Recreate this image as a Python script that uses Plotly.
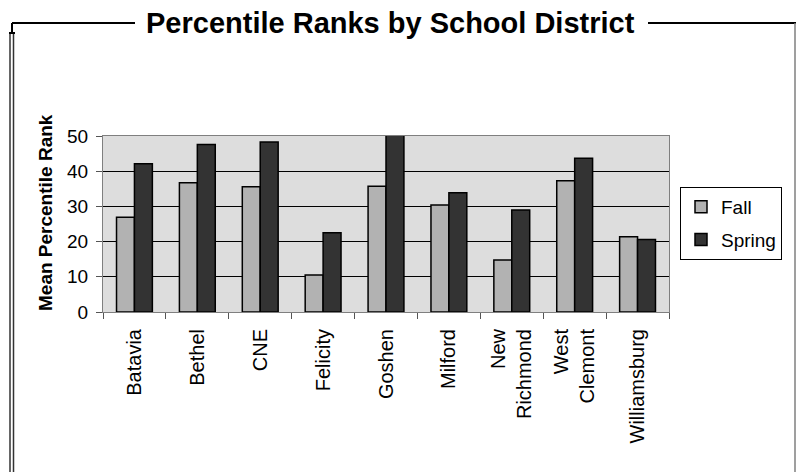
import plotly.graph_objects as go

districts = ["Batavia", "Bethel", "CNE", "Felicity", "Goshen", "Milford",
             "New<br>Richmond", "West<br>Clemont", "Williamsburg"]
fall = [26.9, 36.7, 35.6, 10.5, 35.7, 30.4, 14.8, 37.3, 21.4]
spring = [42.1, 47.6, 48.3, 22.5, 50.8, 33.9, 29.0, 43.7, 20.6]
y_ticks = [0, 10, 20, 30, 40, 50]

W, H = 796, 472
L, R, T, B = 103, 669, 136, 312
FONT = "Liberation Sans, Arial, sans-serif"

def X(px):
    return (px - L) / (R - L)

def Y(py):
    return (B - py) / (B - T)

fig = go.Figure()
fig.add_trace(go.Bar(name="Fall", x=districts, y=fall, legendgroup="fall",
                     marker=dict(color="#b2b2b2", line=dict(color="black", width=1.5)),
                     cliponaxis=False))
fig.add_trace(go.Bar(name="Spring", x=districts, y=spring, legendgroup="spring",
                     marker=dict(color="#333333", line=dict(color="black", width=1.5)),
                     cliponaxis=False))

shapes = []
def line(x0, y0, x1, y1, color="black", width=2):
    shapes.append(dict(type="line", xref="paper", yref="paper",
                       x0=X(x0), y0=Y(y0), x1=X(x1), y1=Y(y1),
                       line=dict(color=color, width=width)))

# outer frame
line(12, 23, 135, 23)
line(648, 23, 796, 23)
line(12, 23, 12, 33)
line(10, 33, 10, 472, color="#333333", width=1.5)
line(13.5, 33, 13.5, 472, color="#333333", width=1.5)
line(9, 33, 15, 33, width=2)
line(795, 23, 795, 472, color="#7f7f7f", width=1.5)

fig.update_layout(
    width=W, height=H,
    margin=dict(l=L, r=W - R, t=T, b=H - B, pad=0, autoexpand=False),
    paper_bgcolor="white",
    plot_bgcolor="#dddddd",
    barmode="group", bargap=0.43, bargroupgap=0,
    font=dict(family=FONT, size=19, color="black"),
    showlegend=True,
    legend=dict(x=X(680), y=Y(187), xanchor="left", yanchor="top",
                bordercolor="black", borderwidth=1, bgcolor="white",
                font=dict(size=19), traceorder="grouped", tracegroupgap=5,
                itemwidth=30),
    shapes=shapes,
    annotations=[
        dict(text="<b>Percentile Ranks by School District</b>", xref="paper", yref="paper",
             x=X(390), y=Y(23), xanchor="center", yanchor="middle", showarrow=False,
             font=dict(size=29, family=FONT, color="black")),
        dict(text="<b>Mean Percentile Rank</b>", xref="paper", yref="paper",
             x=X(45), y=Y(212), xanchor="center", yanchor="middle", showarrow=False,
             textangle=-90, font=dict(size=19, family=FONT, color="black")),
    ],
)
fig.update_xaxes(showline=True, linecolor="#7f7f7f", linewidth=1, mirror=True,
                 ticks="outside", tickson="boundaries", ticklen=6, tickcolor="#555555",
                 tickangle=-90, tickfont=dict(size=20), showgrid=False,
                 ticklabelstandoff=8)
fig.update_yaxes(range=[0, 50], tickvals=y_ticks, showline=True, linecolor="#7f7f7f",
                 linewidth=1, mirror=True, ticks="outside", ticklen=6, tickcolor="#555555",
                 showgrid=True, gridcolor="black", gridwidth=1, zeroline=False,
                 tickfont=dict(size=19), ticklabelstandoff=4)

fig.write_html(
    "out.html",
    config={"displayModeBar": False},
    post_script="document.body.style.margin='0';"
                "document.documentElement.style.overflow='hidden';",
)
